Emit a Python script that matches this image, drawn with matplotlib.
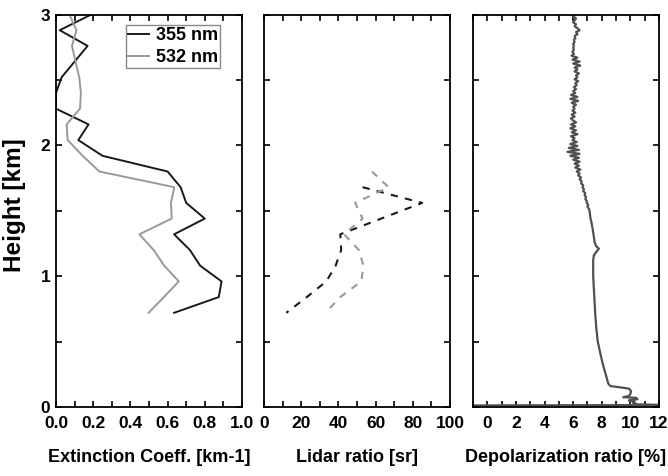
import numpy as np
import matplotlib
matplotlib.use("Agg")
import matplotlib.pyplot as plt
from matplotlib.ticker import MultipleLocator, FuncFormatter

plt.rcParams['font.family'] = ['Liberation Sans', 'DejaVu Sans']
plt.rcParams['font.weight'] = 'bold'

# ---------------- data ----------------
# Extinction coefficient profiles [km-1]
ext_h = [3.00, 2.88, 2.76, 2.64, 2.52, 2.40, 2.28, 2.16, 2.04, 1.92, 1.80,
         1.68, 1.56, 1.44, 1.32, 1.20, 1.08, 0.96, 0.84, 0.72]
ext_355 = [0.19, 0.02, 0.17, 0.10, 0.03, 0.0, 0.0, 0.175, 0.12, 0.25, 0.60,
           0.67, 0.70, 0.80, 0.635, 0.72, 0.775, 0.89, 0.875, 0.635]
ext_532 = [0.072, 0.11, 0.086, 0.105, 0.125, 0.134, 0.129, 0.057, 0.063, 0.143, 0.233,
           0.636, 0.618, 0.622, 0.448, 0.525, 0.582, 0.66, 0.58, 0.498]

# Lidar ratio profiles [sr]
lr_h_355 = [1.68, 1.56, 1.44, 1.32, 1.20, 1.08, 0.96, 0.84, 0.72]
lr_355 = [53, 85, 63, 41, 41.5, 38.5, 33.5, 23, 12]
lr_h_532 = [1.80, 1.68, 1.56, 1.44, 1.32, 1.20, 1.08, 0.96, 0.84, 0.72]
lr_532 = [58, 67, 49, 53, 43, 51, 53.5, 52.3, 41, 33]

# Depolarization ratio profile [%]
dep_noisy_top = 3.0
dep_noisy_step = 0.015
dep_noisy = [6.1, 6.0, 6.2, 6.1, 6.0, 6.2, 6.1, 6.3, 6.45, 6.2,
             6.3, 6.1, 6.15, 6.05, 6.1, 6.0, 6.05, 6.0, 6.05, 5.95,
             6.05, 5.9, 6.3, 5.95, 6.45, 6.0, 6.5, 6.1, 6.3, 6.1,
             6.4, 6.2, 6.3, 6.1, 6.35, 6.15, 6.25, 6.05, 6.2, 6.0,
             6.15, 5.85, 6.3, 5.8, 6.35, 5.9, 6.2, 6.0, 6.1, 5.95,
             6.15, 5.9, 6.1, 5.85, 6.0, 6.2, 5.85, 6.15, 5.8, 6.2,
             5.9, 6.3, 5.85, 6.1, 5.95, 6.25, 5.8, 6.3, 5.7, 6.4,
             5.6, 6.45, 5.8, 6.4, 6.0, 6.45, 6.1, 6.4, 6.15, 6.5,
             6.25, 6.45, 6.35, 6.55, 6.45, 6.6, 6.55, 6.7, 6.65, 6.75,
             6.7, 6.85, 6.8, 6.9, 6.85, 6.95, 6.95, 7.05, 7.0, 7.1]
dep_low_h = [1.50, 1.45, 1.40, 1.35, 1.30, 1.26, 1.23, 1.21, 1.19, 1.16, 1.12,
             1.0, 0.9, 0.8, 0.7, 0.6, 0.5, 0.4, 0.33, 0.28, 0.22, 0.18, 0.16,
             0.15, 0.14, 0.12, 0.10, 0.085, 0.075, 0.07, 0.06, 0.05, 0.04,
             0.03, 0.02, 0.015, 0.012]
dep_low = [7.15, 7.2, 7.3, 7.38, 7.45, 7.5, 7.6, 7.8, 7.65, 7.45, 7.4,
           7.4, 7.45, 7.5, 7.55, 7.62, 7.72, 7.92, 8.07, 8.2, 8.35, 8.45, 8.6,
           9.3, 9.9, 10.05, 10.0, 9.9, 9.5, 10.4, 10.5, 9.9, 10.3,
           10.2, 10.5, 12.5, -1.5]

dep_h = list(dep_noisy_top - dep_noisy_step * np.arange(len(dep_noisy))) + dep_low_h
dep_v = dep_noisy + dep_low

# ---------------- figure ----------------
fig = plt.figure(figsize=(6.68, 4.76), dpi=100)
W, H = 668.0, 476.0
bottom = (H - 407) / H
height = 392.5 / H
width = 186 / W
ax1 = fig.add_axes([56 / W, bottom, width, height])
ax2 = fig.add_axes([264 / W, bottom, width, height])
ax3 = fig.add_axes([473 / W, bottom, width, height])

FS = 12.5

def style(ax, xmaj, xmin):
    ax.set_ylim(0, 3)
    ax.yaxis.set_major_locator(MultipleLocator(1))
    ax.yaxis.set_minor_locator(MultipleLocator(0.5))
    ax.xaxis.set_major_locator(MultipleLocator(xmaj))
    ax.xaxis.set_minor_locator(MultipleLocator(xmin))
    ax.tick_params(which='both', direction='in', top=True, right=True,
                   length=4, width=1.2, labelsize=FS)
    ax.tick_params(axis='x', pad=6.5)
    ax.tick_params(axis='y', pad=4)
    for s in ax.spines.values():
        s.set_linewidth(1.3)
    for lab in ax.get_xticklabels() + ax.get_yticklabels():
        lab.set_fontweight('bold')

# Panel 1
ax1.plot(ext_355, ext_h, color='#1a1a1a', lw=1.4, label='355 nm')
ax1.plot(ext_532, ext_h, color='#999999', lw=1.4, label='532 nm')
ax1.set_xlim(0, 1.0)
style(ax1, 0.2, 0.1)
ax1.xaxis.set_major_formatter(FuncFormatter(lambda v, p: f"{v:.1f}"))
ax1.set_ylabel('Height [km]', fontsize=17.5, fontweight='bold', va='center')
ax1.yaxis.set_label_coords(-(56 - 14) / 186, (407 - 205) / 392.5)
ax1.set_xlabel('Extinction Coeff. [km-1]', fontsize=13, fontweight='bold', labelpad=13)
leg = ax1.legend(loc='upper right', bbox_to_anchor=(0.88, 0.973), borderaxespad=0,
                 frameon=True, fancybox=False, framealpha=1,
                 edgecolor='#888888', handlelength=1.2, handletextpad=0.35,
                 borderpad=0.1, labelspacing=0.3, prop={'weight': 'bold', 'size': 13})
leg.get_frame().set_linewidth(1.0)

# Panel 2
ax2.plot(lr_355, lr_h_355, color='#1a1a1a', lw=1.5, ls=(0, (3.5, 3.5)))
ax2.plot(lr_532, lr_h_532, color='#999999', lw=1.5, ls=(0, (3.5, 3.5)))
ax2.set_xlim(0, 100)
style(ax2, 20, 10)
ax2.set_yticklabels([])
ax2.set_xlabel('Lidar ratio [sr]', fontsize=13, fontweight='bold', labelpad=13)

# Panel 3
ax3.plot(dep_v, dep_h, color='#505050', lw=1.6)
ax3.set_xlim(-1, 12)
style(ax3, 2, 1)
ax3.set_xticks([0, 2, 4, 6, 8, 10, 12])
ax3.set_yticklabels([])
ax3.set_xlabel('Depolarization ratio [%]', fontsize=13, fontweight='bold', labelpad=13)
for lab in ax3.get_xticklabels():
    lab.set_fontweight('bold')

fig.savefig('out.png', dpi=100)
